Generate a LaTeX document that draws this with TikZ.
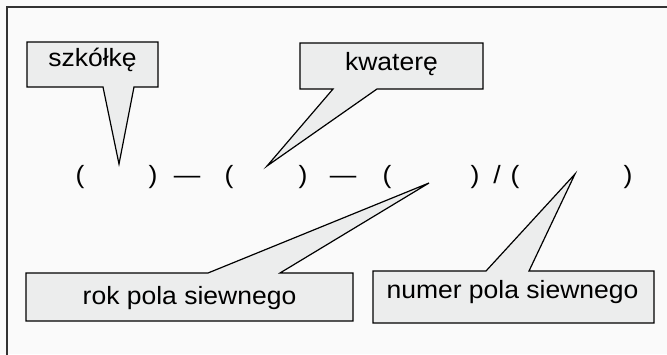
\documentclass[tikz,border=0pt]{standalone}
\usepackage{fontspec}
\setmainfont{Liberation Sans}[FakeStretch=1.06]
\usepackage{xcolor}
\usepackage{tikz}

\definecolor{boxgray}{RGB}{236,237,237}
\definecolor{paper}{RGB}{250,250,250}

\tikzset{
  bubble/.style={draw=black, fill=boxgray, line width=1.2pt, line join=miter},
  txt/.style={anchor=base, inner sep=0pt, font=\fontsize{25}{30}\selectfont},
}

\begin{document}
\begin{tikzpicture}[x=1pt,y=-1pt]
        \useasboundingbox (0,0) rectangle (667,354);
        \fill[paper] (0,0) rectangle (667,354);
        % ramka
        \draw[black!80, line width=1.5pt] (7,362) -- (7,7) -- (675,7);

        % końce wskaźników
        \coordinate (tipA) at (119,164);
        \coordinate (tipB) at (267,166);
        \coordinate (tipC) at (429,183);
        \coordinate (tipD) at (575,174);

        % dymki
        \draw[bubble] (27,42) -- (158,42) -- (158,87) -- (134,87) -- (tipA) -- (103,87) -- (27,87) -- cycle;
        \draw[bubble] (300,43) -- (483,43) -- (483,89) -- (377,89) -- (tipB) -- (333,89) -- (300,89) -- cycle;
        \draw[bubble] (26,273) -- (208,273) -- (tipC) -- (280,273) -- (353,273) -- (353,321) -- (26,321) -- cycle;
        \draw[bubble] (373,271) -- (486,271) -- (tipD) -- (529,271) -- (654,271) -- (654,323) -- (373,323) -- cycle;

        % opisy
        \node[txt] (szkolka) at (92.5,66) {szkółkę};
        \node[txt] (kwatera) at (391.5,70) {kwaterę};
        \node[txt] (rok) at (189.5,304) {rok pola siewnego};
        \node[txt] (numer) at (512.5,298) {numer pola siewnego};

        % zapis numeru
        \node[txt] (lpA) at (80,183) {(};
        \node[txt] (rpA) at (153,183) {)};
        \node[txt] (dashA) at (187,183) {—};
        \node[txt] (lpB) at (229,183) {(};
        \node[txt] (rpB) at (303,183) {)};
        \node[txt] (dashB) at (343,183) {—};
        \node[txt] (lpC) at (387,183) {(};
        \node[txt] (rpC) at (475,183) {)};
        \node[txt] (slash) at (497,183) {/};
        \node[txt] (lpD) at (515,183) {(};
        \node[txt] (rpD) at (628,183) {)};
\end{tikzpicture}
\end{document}
